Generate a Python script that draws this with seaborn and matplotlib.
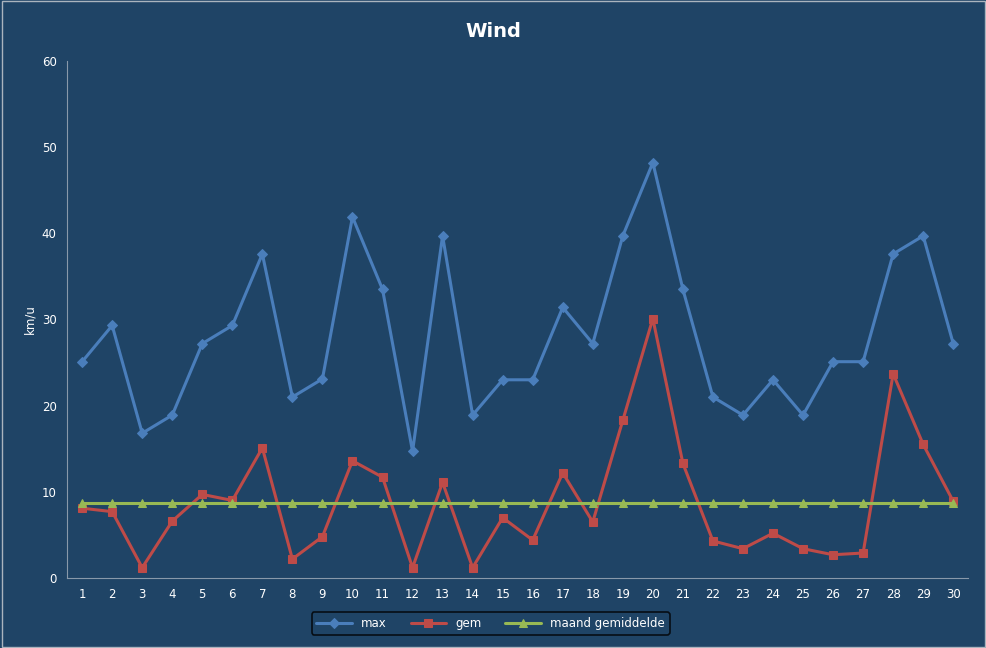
import matplotlib
matplotlib.use("Agg")
import matplotlib.pyplot as plt
import seaborn as sns
import pandas as pd

days = list(range(1, 31))
max_vals = [25.1, 29.3, 16.8, 18.9, 27.2, 29.3, 37.6, 21.0, 23.1, 41.9, 33.5, 14.7, 39.7, 18.9, 23.0,
            23.0, 31.4, 27.2, 39.7, 48.2, 33.5, 21.0, 18.9, 23.0, 18.9, 25.1, 25.1, 37.6, 39.7, 27.2]
gem_vals = [8.1, 7.7, 1.2, 6.6, 9.7, 9.0, 15.1, 2.2, 4.8, 13.6, 11.7, 1.2, 11.1, 1.2, 7.0,
            4.4, 12.2, 6.5, 18.3, 30.1, 13.3, 4.3, 3.4, 5.2, 3.4, 2.7, 2.9, 23.7, 15.5, 8.9]
avg_vals = [8.7] * 30

bg = "#1F4466"
sns.set_style("dark")
fig = plt.figure(figsize=(9.87, 6.48), dpi=100, facecolor=bg)
ax = fig.add_axes([0.068, 0.108, 0.913, 0.798])
ax.set_facecolor(bg)

df = pd.DataFrame({"day": days, "max": max_vals, "gem": gem_vals, "maand gemiddelde": avg_vals})
styles = [("max", "#4A7EBB", "D", 5), ("gem", "#BE4B48", "s", 6), ("maand gemiddelde", "#98B954", "^", 6)]
for col, c, m, ms in styles:
    sns.lineplot(data=df, x="day", y=col, ax=ax, color=c, marker=m, markersize=ms,
                 markeredgecolor=c, linewidth=2.2, label=col)

ax.set_xlim(0.5, 30.5)
ax.set_ylim(0, 60)
ax.set_xticks(days)
ax.set_yticks(range(0, 61, 10))
ax.tick_params(colors="white", labelsize=8.5, length=4, color="#8899AA", direction="out")
ax.grid(False)
for s in ["top", "right"]:
    ax.spines[s].set_visible(False)
for s in ["left", "bottom"]:
    ax.spines[s].set_color("#8899AA")
ax.set_xlabel("")
ax.set_ylabel("km/u", color="white", fontsize=8.5)
fig.text(0.5, 0.952, "Wind", color="white", fontsize=14, fontweight="bold", ha="center", va="center")

leg = ax.legend(loc="upper center", bbox_to_anchor=(0.47, -0.055), ncol=3, frameon=True,
                fontsize=8.5, facecolor=bg, edgecolor="black", handlelength=3)
for t in leg.get_texts():
    t.set_color("white")
leg.get_frame().set_linewidth(1.2)

fig.patches.append(plt.Rectangle((0.002, 0.002), 0.996, 0.996, transform=fig.transFigure,
                                 fill=False, edgecolor="#AAB4BE", linewidth=1))
fig.savefig("out.png", dpi=100, facecolor=bg)
